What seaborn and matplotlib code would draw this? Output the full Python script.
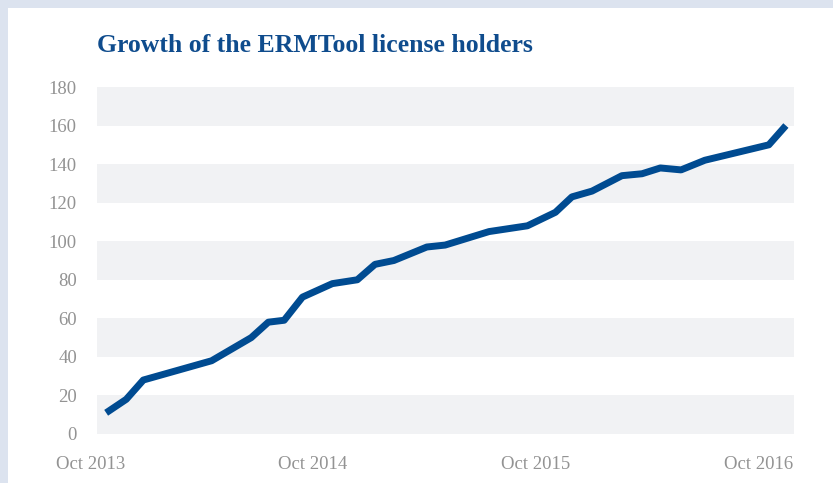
import matplotlib
matplotlib.use("Agg")
import matplotlib.pyplot as plt
from matplotlib.patches import Rectangle
import pandas as pd
import seaborn as sns

# ---- data ----
dates = ["2013-10-27", "2013-11-29", "2013-12-27", "2014-04-18", "2014-06-22",
         "2014-07-20", "2014-08-15", "2014-09-14", "2014-11-02", "2014-12-13",
         "2015-01-11", "2015-02-11", "2015-04-06", "2015-05-06", "2015-07-17",
         "2015-09-18", "2015-11-03", "2015-11-30", "2016-01-02", "2016-02-20",
         "2016-03-24", "2016-04-23", "2016-05-27", "2016-07-05", "2016-10-18",
         "2016-11-15"]
holders = [11, 18, 28, 38, 50, 58, 59, 71, 78, 80, 88, 90, 97, 98, 105,
           108, 115, 123, 126, 134, 135, 138, 137, 142, 150, 160]
tick_dates = ["2013-10-01", "2014-10-01", "2015-10-01", "2016-10-01"]
tick_labels = ["Oct 2013", "Oct 2014", "Oct 2015", "Oct 2016"]
y_ticks = [0, 20, 40, 60, 80, 100, 120, 140, 160, 180]
title = "Growth of the ERMTool license holders"

# ---- style ----
sns.set_theme(style="white")
plt.rcParams['font.family'] = ['Liberation Serif', 'DejaVu Serif']

W, H = 833, 483
fig = plt.figure(figsize=(W / 100, H / 100), dpi=100)
fig.patch.set_facecolor('#dce3ef')
fig.add_artist(Rectangle((8 / W, 0), 1, 1 - 8 / H, transform=fig.transFigure,
                         facecolor='white', edgecolor='none', zorder=-10))

ax_left, ax_right, ax_top, ax_bot = 88, 795, 87, 434
ax = fig.add_axes([ax_left / W, (H - ax_bot) / H, (ax_right - ax_left) / W,
                   (ax_bot - ax_top) / H])
ax.patch.set_alpha(0)

# alternating bands
band_x0 = (97 - ax_left) / (ax_right - ax_left)
band_x1 = (794 - ax_left) / (ax_right - ax_left)
for lo, hi in zip(y_ticks[0::2], y_ticks[1::2]):
    ax.axhspan(lo, hi, xmin=band_x0, xmax=band_x1, color='#f1f2f4', lw=0, zorder=0)

df = pd.DataFrame({"date": pd.to_datetime(dates), "holders": holders})
sns.lineplot(data=df, x="date", y="holders", ax=ax, color='#004b91',
             linewidth=5.0, zorder=3, solid_capstyle='butt')

# x scale: Oct 1 2013 at px 90.3, 222.67 px per year
origin = pd.Timestamp(tick_dates[0])
ppd = 222.67 / 365.25
ax.set_xlim(origin - pd.Timedelta(days=(90.3 - ax_left) / ppd),
            origin + pd.Timedelta(days=(ax_right - 90.3) / ppd))
ax.set_ylim(0, 180)
ax.set_xticks(pd.to_datetime(tick_dates))
ax.set_xticklabels(tick_labels)
ax.set_yticks(y_ticks)
ax.set_yticklabels([str(v) for v in y_ticks])
ax.set_xlabel("")
ax.set_ylabel("")
for s in ax.spines.values():
    s.set_visible(False)
ax.tick_params(axis='both', length=0, labelsize=13.5, labelcolor='#939393')
ax.tick_params(axis='y', pad=8)
ax.tick_params(axis='x', pad=16)
ax.grid(False)

fig.text(97 / W, 1 - 52 / H, title, ha='left', va='baseline', fontsize=18.5,
         fontweight='bold', color='#0f4c8d')

fig.savefig('out.png', dpi=100)
